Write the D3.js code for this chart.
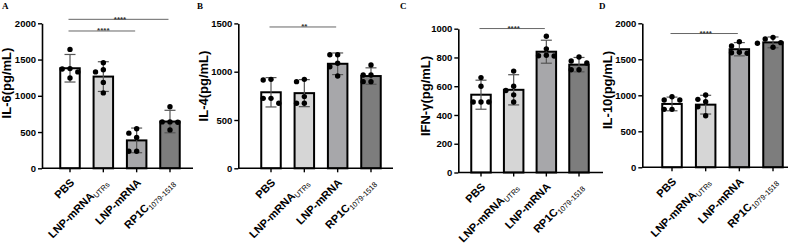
<!DOCTYPE html>
<html>
<head>
<meta charset="utf-8">
<script src="https://cdn.jsdelivr.net/npm/d3@7"></script>
<style>
  body { margin: 0; background: #fff; }
  svg { display: block; font-family: "Liberation Sans", Arial, sans-serif; }
</style>
</head>
<body>
<div id="chart"></div>
<script>
// groups on the x axis (main text + subscript)
const categories = ["PBS", "LNP-mRNA", "LNP-mRNA", "RP1C"];
const subscripts = ["", "UTRs", "", "1079-1518"];
const barColors = ["#ffffff", "#d6d6d6", "#a7a7aa", "#7d7d7d"];

// IL-6
const il6Mean = [1380, 1265, 385, 645];
const il6Sd = [190, 205, 170, 155];
const il6Points = [[1640, 1375, 1370, 1330, 1245], [1455, 1360, 1330, 1185, 1040], [545, 485, 425, 235, 235], [850, 640, 640, 635, 530]];
const il6Ticks = [0, 500, 1000, 1500, 2000];
const il6Sig = [{ from: 0, to: 3, level: 2055, text: "****" }, { from: 0, to: 2, level: 1894, text: "****" }];

// IL-4
const il4Mean = [787, 778, 1082, 955];
const il4Sd = [152, 140, 112, 85];
const il4Points = [[921, 914, 724, 724, 673], [921, 897, 742, 673, 673], [1176, 1176, 1087, 1052, 956], [1070, 966, 966, 897, 897]];
const il4Ticks = [0, 500, 1000, 1500];
const il4Sig = [{ from: 0, to: 2, level: 1463, text: "**" }];

// IFN-γ
const ifnMean = [541, 575, 840, 750];
const ifnSd = [101, 105, 80, 50];
const ifnPoints = [[660, 600, 490, 490, 490], [705, 600, 570, 540, 490], [948, 860, 815, 812, 810], [803, 775, 761, 715, 715]];
const ifnTicks = [0, 200, 400, 600, 800, 1000];
const ifnSig = [{ from: 0, to: 2, level: 1001, text: "****" }];

// IL-10
const il10Mean = [880, 870, 1640, 1735];
const il10Sd = [95, 130, 92, 75];
const il10Points = [[980, 935, 935, 805, 805], [1004, 944, 911, 842, 717], [1745, 1685, 1597, 1590, 1583], [1805, 1782, 1731, 1722, 1667]];
const il10Ticks = [0, 500, 1000, 1500, 2000];
const il10Sig = [{ from: 0, to: 2, level: 1858, text: "****" }];

const W = 796, H = 245;
const svg = d3.select("#chart").append("svg").attr("width", W).attr("height", H);

const panels = [
  { letter: "A", label: "IL-6(pg/mL)", mean: il6Mean, sd: il6Sd, points: il6Points, ticks: il6Ticks, sig: il6Sig,
    axisX: 42, first: 70, step: 33.33, end: 193, yTop: 23.3, yBot: 168.3, labelX: 6, labelY: 83, letterX: 2 },
  { letter: "B", label: "IL-4(pg/mL)", mean: il4Mean, sd: il4Sd, points: il4Points, ticks: il4Ticks, sig: il4Sig,
    axisX: 238.3, first: 271, step: 33.33, end: 393, yTop: 23.4, yBot: 168.3, labelX: 203, labelY: 86, letterX: 197 },
  { letter: "C", label: "IFN-γ(pg/mL)", mean: ifnMean, sd: ifnSd, points: ifnPoints, ticks: ifnTicks, sig: ifnSig,
    axisX: 458.3, first: 481, step: 32.67, end: 603, yTop: 28.7, yBot: 172.5, labelX: 425, labelY: 96, letterX: 400 },
  { letter: "D", label: "IL-10(pg/mL)", mean: il10Mean, sd: il10Sd, points: il10Points, ticks: il10Ticks, sig: il10Sig,
    axisX: 642.3, first: 672, step: 33.67, end: 788, yTop: 23.3, yBot: 167.3, labelX: 607, labelY: 90, letterX: 599 }
];

// simple beeswarm: put each dot at the first free horizontal slot
function swarm(values, y, r, gap) {
  const placed = [];
  values.slice().sort((a, b) => b - a).forEach(v => {
    const py = y(v);
    const offsets = [0, -gap, gap, -2 * gap, 2 * gap];
    for (const o of offsets) {
      const hit = placed.some(p => Math.hypot(p.dx - o, p.py - py) < 2 * r + 0.8);
      if (!hit) { placed.push({ v: v, dx: o, py: py }); break; }
    }
  });
  return placed;
}

panels.forEach(p => {
  const g = svg.append("g");
  const idx = d3.range(categories.length);
  const pad = 1 - 19.5 / p.step;

  const x = d3.scaleBand()
    .domain(idx)
    .range([p.first - p.step / 2, p.first + (categories.length - 0.5) * p.step])
    .paddingInner(pad)
    .paddingOuter(pad / 2);

  const y = d3.scaleLinear()
    .domain([0, d3.max(p.ticks)])
    .range([p.yBot, p.yTop]);

  const cx = i => x(i) + x.bandwidth() / 2;

  // panel letter
  g.append("text")
    .attr("x", p.letterX).attr("y", 9)
    .style("font-family", "'Liberation Serif', 'Times New Roman', serif")
    .style("font-weight", "bold")
    .style("font-size", "9px")
    .text(p.letter);

  // bars
  g.selectAll("rect.bar")
    .data(p.mean)
    .enter().append("rect")
    .attr("class", "bar")
    .attr("x", (d, i) => x(i))
    .attr("width", x.bandwidth())
    .attr("y", d => y(d))
    .attr("height", d => y(0) - y(d))
    .attr("fill", (d, i) => barColors[i])
    .attr("stroke", "#000")
    .attr("stroke-width", 2);

  // error bars (mean ± SD)
  const err = g.selectAll("g.err")
    .data(p.mean)
    .enter().append("g")
    .attr("class", "err")
    .attr("stroke", "#555")
    .attr("stroke-width", 1.2);
  err.append("line")
    .attr("x1", (d, i) => cx(i)).attr("x2", (d, i) => cx(i))
    .attr("y1", (d, i) => y(d - p.sd[i])).attr("y2", (d, i) => y(d + p.sd[i]));
  err.append("line")
    .attr("x1", (d, i) => cx(i) - 5.5).attr("x2", (d, i) => cx(i) + 5.5)
    .attr("y1", (d, i) => y(d + p.sd[i])).attr("y2", (d, i) => y(d + p.sd[i]));
  err.append("line")
    .attr("x1", (d, i) => cx(i) - 5.5).attr("x2", (d, i) => cx(i) + 5.5)
    .attr("y1", (d, i) => y(d - p.sd[i])).attr("y2", (d, i) => y(d - p.sd[i]));

  // individual points
  p.points.forEach((vals, i) => {
    g.selectAll(null)
      .data(swarm(vals, y, 2.7, 7.8))
      .enter().append("circle")
      .attr("cx", d => cx(i) + d.dx)
      .attr("cy", d => d.py)
      .attr("r", 2.7)
      .attr("fill", "#000");
  });

  // y axis
  const yAxis = g.append("g")
    .attr("transform", `translate(${p.axisX},0)`)
    .call(d3.axisLeft(y).tickValues(p.ticks).tickFormat(d3.format("d")).tickSize(4).tickPadding(2).tickSizeOuter(0));
  yAxis.select(".domain").attr("stroke-width", 1.6);
  yAxis.selectAll(".tick line").attr("stroke-width", 1.4);
  yAxis.selectAll(".tick text")
    .style("font-family", "'Liberation Sans', Arial, sans-serif")
    .style("font-size", "9.5px")
    .style("font-weight", "bold")
    .attr("fill", "#000");

  // x axis
  const xAxis = g.append("g")
    .attr("transform", `translate(0,${p.yBot})`)
    .call(d3.axisBottom(x).tickSize(4).tickFormat("").tickSizeOuter(0));
  xAxis.select(".domain")
    .attr("d", `M${p.axisX},0H${p.end}`)
    .attr("stroke-width", 1.6);
  xAxis.selectAll(".tick line").attr("stroke-width", 1.4);

  // rotated category labels (bound to index so subscripts line up)
  const lbl = g.selectAll("text.cat")
    .data(idx)
    .enter().append("text")
    .attr("class", "cat")
    .attr("text-anchor", "end")
    .attr("transform", i => `translate(${cx(i) + 5},${p.yBot + 15}) rotate(-45)`)
    .style("font-size", "11px")
    .style("font-weight", "bold");
  lbl.append("tspan").text(i => categories[i]);
  lbl.filter(i => subscripts[i] !== "")
    .append("tspan")
    .attr("dy", 2.5)
    .style("font-size", "7.5px")
    .style("font-weight", "normal")
    .text(i => subscripts[i]);

  // y axis title
  g.append("text")
    .attr("transform", `translate(${p.labelX},${p.labelY}) rotate(-90)`)
    .attr("text-anchor", "middle")
    .attr("dy", "0.35em")
    .style("font-size", "13px")
    .style("font-weight", "bold")
    .text(p.label);

  // significance brackets
  const sig = g.selectAll("g.sig")
    .data(p.sig)
    .enter().append("g")
    .attr("class", "sig");
  sig.append("line")
    .attr("x1", d => cx(d.from) - 1.5).attr("x2", d => cx(d.to) - 1.5)
    .attr("y1", d => y(d.level)).attr("y2", d => y(d.level))
    .attr("stroke", "#666")
    .attr("stroke-width", 1);
  sig.append("text")
    .attr("x", d => (cx(d.from) + cx(d.to)) / 2)
    .attr("y", d => y(d.level) + 2.5)
    .attr("text-anchor", "middle")
    .style("font-size", "8px")
    .style("font-weight", "bold")
    .attr("fill", "#333")
    .text(d => d.text);
});
</script>
</body>
</html>
